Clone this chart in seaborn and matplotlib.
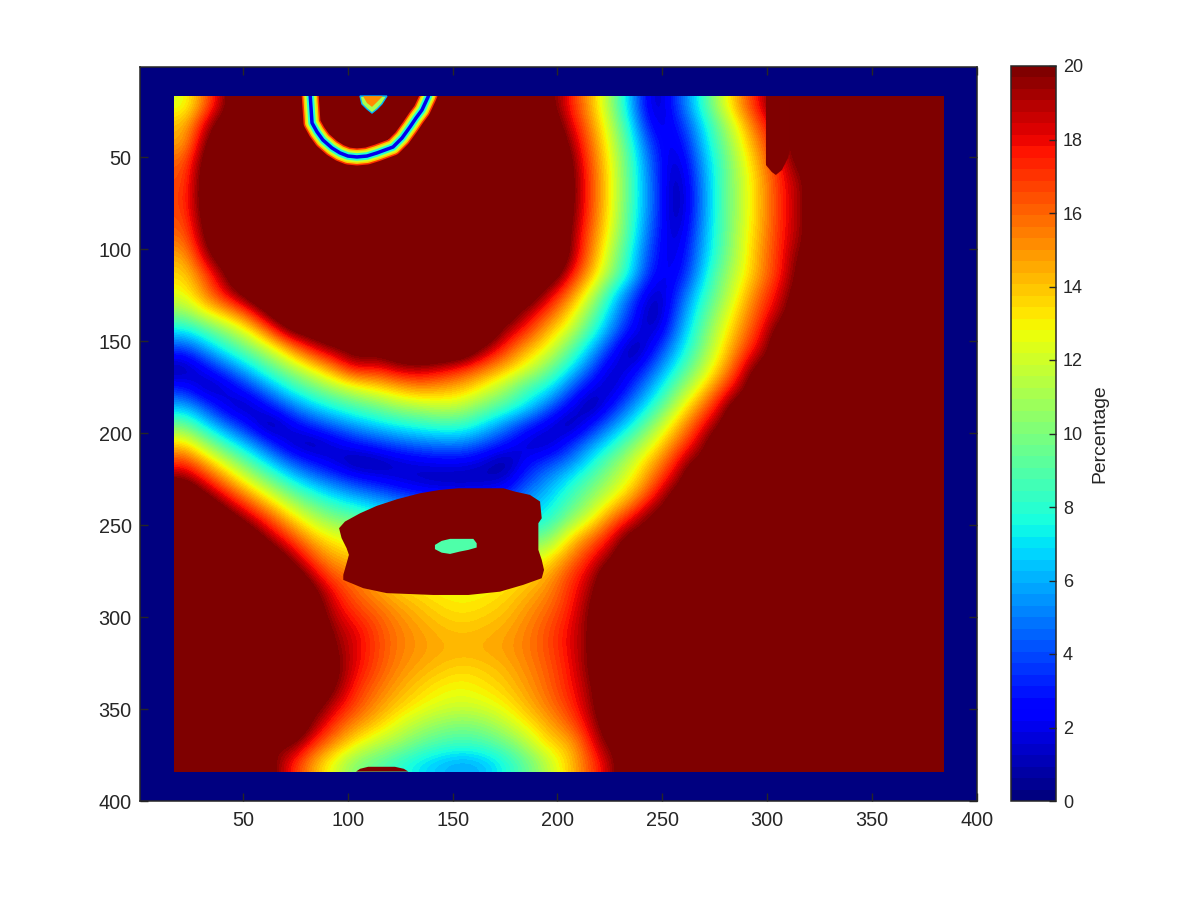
import numpy as np
import matplotlib
matplotlib.use("Agg")
import matplotlib.pyplot as plt
import seaborn as sns
from matplotlib.colors import Normalize
from matplotlib.patches import Rectangle
from matplotlib.transforms import Affine2D

# Percentage values, one list per column of a
# coarse sampling grid of the inner area (left to right, each top to bottom).
# Above 20 the colour saturates, so those entries only place the dark-red edge.
c00 = [12.2,14,14.5,16,16.4,16.7,16.4,15.8,14.5,13.5,12.6,10.5,7,3.5,.4,2.9,6,9.7,13.6,17.1,20.4,24] + [20]*14
c01 = [16,18.5,20,21,21.5,21.5,21,20.2,19,16.5,15.5,13,8.7,5.7,2.5,.5,3.9,6.8,10.6,14.4,17.7,21,24] + [20]*13
c02 = [20,22,23,24,24,24,24,24,22.5,20.2,18.5,14.5,10.7,7.8,4.6,1.6,1.4,4.6,7.9,11.7,15,18.3,21.5,24] + [20]*12
c03 = [24] + [20]*8 + [24,21.5,17,12.8,9.8,6.7,3.7,.8,2.4,5.8,9,12.3,15.7,18.9,22,24] + [20]*10 + [24]
c04 = [20]*10 + [24,21,16.3,11.8,9,5.9,3,0,3.3,6.6,9.8,13.2,16.5,19,22,24] + [20]*9 + [20.5]
c05 = [20]*11 + [24,20.4,14.7,11,8,5,2,1,4.3,7.5,10.7,13.7,16.6,19.2,22,24] + [20]*6 + [23,20.5,17.6]
c06 = [20]*11 + [24,21.5,17.8,13,9.7,6.7,3.6,.5,2.7,5.8,8.8,11.6,14,16.3,18.5,21,21.5,22.5,23,23,22.5,21,19.6,17.2,14.6]
c07 = [20]*12 + [23,19.5,15.3,11.2,7.9,4.8,1.6,1.5,4.5,7.5,10,12.7,14.3,16,17.7,18.6,19.3,19.9,20.5,20,18.5,16.8,15,12.2]
c08 = [20]*13 + [21.5,18.2,12.5,9,5.9,2.8,.3,3.3,6.5,9.5,12,14,15.5,16,17,18.2,18.3,18,17.3,16.6,15,13,10]
c09 = [20]*13 + [21,17.5,13.5,9.8,6.8,3.6,.5,2.5,5.7,8.5,11,12.8,14.2,15,16,16.6,16.7,16.5,15.8,15,13.8,11.5,9.2]
c10 = [20]*13 + [22.5,19,14.5,11,7.5,4.4,1.3,1.7,4.8,7.5,9.5,11.5,13,14,15,15.5,15.5,15.2,14.6,13.8,12.3,10.7,8]
c11 = [20]*13 + [23,19.2,15.3,11.5,8,4.9,1.8,1.1,4,7,9,11,12.5,13.5,14.2,14.8,14.9,14.5,13.7,12.9,11.2,9.4,7]
c12 = [20]*13 + [23,18.5,14.8,12,8.5,5.2,2.1,.8,3.7,6.5,8.5,10.5,12.2,13,13.6,14.2,14.5,13.9,13,12.3,10.4,8.7,6.2]
c13 = [20]*13 + [23,17.2,14.3,11.6,8.4,5.2,2.1,.8,3.5,6.3,8.3,10.3,12,12.8,13.3,14,14.4,13.5,12.8,12,10,8.4,5.7]
c14 = [20]*12 + [23,19.5,15.8,12.8,10,7,4.2,1.4,1,3.6,6.3,8.3,10.5,12.3,13,13.6,14.2,14.5,13.8,13.2,12.3,10.4,8.7,6.2]
c15 = [20]*11 + [22,19.2,16.9,14.2,11.1,8.8,5.3,2.9,.2,1.5,3.8,6.5,8.5,11,12.7,13.5,14,14.6,14.8,14.3,13.8,13,11.6,9.6,7.6]
c16 = [20]*10 + [22.5,19.1,17.1,14.3,12.4,8.7,7.2,3.5,1.2,2.5,4,5.5,7,9.3,11.8,13.5,14.3,15,15.4,15.5,15.2,14.8,14.2,13,11.3,9.3]
c17 = [21,22,23,24,24,24,24,24,24,22.5,18.9,16.6,14.2,12.6,10,7.6,4.8,1.9,.9,3.8,5.5,6.8,7.7,9.8,12.7,14.5,15.3,16,16.5,16.5,16.2,16,15.5,14.5,13.5,11.5]
c18 = [17.6,18.5,19.6,20.5,20.8,20.8,20.5,20,19.9,18,15.7,13.7,12,9.4,7.3,4.7,2.3,.3,3.1,5,7.4,8.6,10.1,13.3,15.2,16.8,17.2,17.5,18,18,17.7,17.5,17,16,14.2,13.8]
c19 = [14.5,15.2,15.8,16.3,16.6,16.6,16.4,15.8,15.3,14.3,12.1,10.1,8.4,6.3,4.4,2,.1,2.7,5.3,7.5,9.2,10.6,12.5,15.6,17.5,18.6,19.4,20,20,20,20,19.4,19.2,18.5,17.5,16.5]
c20 = [10.4,11.3,12,12.5,12.7,12.7,12.5,12,11.1,10.4,7.5,6.2,5.1,3.1,1.1,.9,2.8,5.2,7.5,9.8,11.1,12.8,15.7,18,19.7,22.3,22.8,23.5,23.5,23.5,23.5,23,22.5,22,21,19.2]
c21 = [5.4,6.4,7.3,7.9,8,8,7.8,7.5,6.8,6.5,4.1,3,2.1,0,1.9,3.7,5.5,7.5,10.1,12.1,13.2,15.2,18.1,21.5,23] + [20]*10 + [23]
c22 = [.5,1.4,2.8,3.6,4,4.2,4,3.4,2.9,2.2,.8,.1,1,3,4.7,6.4,8.1,10.7,12.7,14.7,16.3,18.2,21.5] + [20]*13
c23 = [3.6,2.6,1.6,.8,.2,0,.2,.8,1.3,1.9,3.1,4.1,5,6.2,7.6,9.5,11.6,13.8,15.7,17.6,19.2,22] + [20]*14
c24 = [7.3,6.1,5.5,4.8,4.4,4.2,4.4,4.8,5.2,5.7,7,7.8,8.6,9.4,10.6,12.5,14.9,17,18.5,21,23] + [20]*15
c25 = [11.4,9.8,9.1,8.5,8.4,8.4,8.4,8.5,8.7,9.7,10,11,11.9,12.7,13.8,15.9,18.1,19.8,22.5] + [20]*17
c26 = [15.2,13.4,12.5,11.8,11.5,11.5,11.5,11.8,11.9,12.3,13.2,14.1,15,16,17.5,19,22,23.5] + [20]*18
c27 = [18.4,17.2,16,15.2,14.6,14.6,14.6,14.8,15.2,15.2,16.3,17,17.8,18.8,21.5,23] + [20]*20
c28 = [22.4,19.3,18.8,18.2,17.8,17.7,17.7,17.8,17.8,18,18.7,19.4,21.7,22.6] + [20]*22
c29 = [20,23,22.5,21.5,19.8,19.7,19.7,19.8,21,21.5,22,23] + [20]*24
c30 = [20,20,20,20,23.5,23.5,23.5,23.5] + [20]*28
c31 = c32 = c33 = c34 = c35 = [20]*36
columns = [c00,c01,c02,c03,c04,c05,c06,c07,c08,c09,c10,c11,c12,c13,c14,c15,c16,c17,
           c18,c19,c20,c21,c22,c23,c24,c25,c26,c27,c28,c29,c30,c31,c32,c33,c34,c35]

# Sharp-edged regions, in axis units
blob_x = [152.7,174.2,179.7,186.9,191.7,192.5,190.9,190.9,192.5,193.6,192.5,183.7,172.6,157.5,140.8,118.6,107.4,97.9,97.9,99.5,100.6,99.5,97.1,95.9,98.7,105.9,113.8,123.4,134.5,143.9]
blob_y = [230,230,231.8,233.6,237.2,246.3,249,263.5,268.9,274.4,278.9,282.5,286.2,288,288,287,284.3,279.8,277.1,270.7,266.2,262.6,257.1,251.7,248.1,243.6,239.6,236,232.7,230.9]
spot_x = [141.6,144.8,148.8,159.9,161.5,161.5,157.5,153.5,148.8,144.8,141.6]
spot_y = [260.8,258.6,257.5,257.5,259.9,262.2,263.5,264.4,265.7,265,263.1]
dome_x = [104,105.9,109.8,122.5,126.8,128.9]
dome_y = [384,382.5,381.4,381.4,382.5,384]
patch_x = [299.4,299.4,302.2,304.1,307,309.9,310.8,310.8]
patch_y = [16.8,54.3,58.1,59.7,57,50.5,46.1,16.8]
arc_x = [82,83,85.4,88.2,92.5,96.3,100.1,104.4,109.2,114,117.8,121.6,125.9,129.7,132.6,135.4,138.3,139.2]
arc_y = [14,31.4,36.3,40.7,45,47.7,49.4,49.9,49.4,47.7,46.1,44.5,39.6,33.6,28.7,24.4,17.3,14.6]
cap_x = [105.9,106.8,109.2,111.6,114,116.3,118.7]
cap_y = [16.8,21.1,23.8,26,23.8,21.1,16.8]
core_x = [107.3,109.2,111.6,113.5,116.8]
core_y = [16.8,20.6,22.7,20.6,16.8]

axis_ticks = [50,100,150,200,250,300,350,400]
cbar_ticks = [0,2,4,6,8,10,12,14,16,18,20]
cbar_label = "Percentage"

INK = "#262626"
plt.rcParams["font.family"] = ["Liberation Sans", "DejaVu Sans"]
plt.rcParams["font.size"] = 13

field = np.array(columns, dtype=float).T
cmap = plt.get_cmap("jet", 64)
norm = Normalize(0, 20)

fig = plt.figure(figsize=(12, 9), dpi=100)
ax = fig.add_axes([140/1200, 1-801/900, 837/1200, 734/900])
cax = fig.add_axes([1011/1200, 1-801/900, 45/1200, 735/900])

sns.heatmap(field, ax=ax, cbar_ax=cax, cmap=cmap, vmin=0, vmax=20,
            xticklabels=False, yticklabels=False, linewidths=0)

# inner area spans 17..384 in axis units
step = (384-17)/field.shape[1]
ax.collections[0].set_transform(Affine2D().scale(step).translate(17, 17) + ax.transData)
ax.imshow(field, cmap=cmap, norm=norm, extent=(17, 384, 384, 17), aspect="auto",
          interpolation="bicubic", interpolation_stage="data", zorder=2)
ax.set_facecolor(cmap(0))
ax.set_xlim(1, 400)
ax.set_ylim(400, 1)

inner = Rectangle((17, 17), 367, 367, transform=ax.transData)
for value, px in [(17, 17), (14, 14), (12, 11), (8, 7.5), (2, 3.5)]:
    line, = ax.plot(arc_x, arc_y, color=cmap(norm(value)), lw=px*0.72, zorder=3,
                    solid_joinstyle="round")
    line.set_clip_path(inner)
ax.fill(cap_x, cap_y, facecolor=cmap(norm(11)), edgecolor=cmap(norm(6)), lw=1, zorder=3)
ax.fill(core_x, core_y, facecolor=cmap(norm(15)), lw=0, zorder=3)
ax.fill(blob_x, blob_y, facecolor=cmap(norm(20)), lw=0, zorder=3)
ax.fill(spot_x, spot_y, facecolor=cmap(norm(9)), lw=0, zorder=4)
ax.fill(dome_x, dome_y, facecolor=cmap(norm(20)), lw=0, zorder=3)
ax.fill(patch_x, patch_y, facecolor=cmap(norm(20)), lw=0, zorder=3)

ax.set_xticks(axis_ticks, labels=[str(t) for t in axis_ticks])
ax.set_yticks(axis_ticks, labels=[str(t) for t in axis_ticks])
ax.tick_params(direction="in", top=True, right=True, length=5.5, width=1, color=INK,
               labelcolor=INK, labelsize=14.3, pad=5.5, zorder=6)
ax.tick_params(axis="x", labelbottom=True, labeltop=False, labelrotation=0, pad=7)
ax.tick_params(axis="y", labelleft=True, labelright=False, labelrotation=0, pad=6)
for side in ax.spines.values():
    side.set_visible(True)
    side.set_color(INK)
    side.set_linewidth(1.1)
    side.set_zorder(7)

cb = ax.collections[0].colorbar
cb.set_ticks(cbar_ticks, labels=[str(t) for t in cbar_ticks])
cb.ax.tick_params(direction="in", length=5, width=1, color=INK, labelcolor=INK,
                  labelsize=13, pad=5)
cb.outline.set_visible(True)
cb.outline.set_edgecolor(INK)
cb.outline.set_linewidth(1.1)
cb.set_label(cbar_label, color=INK, fontsize=13.9, labelpad=6)

fig.savefig("out.png", dpi=100)
